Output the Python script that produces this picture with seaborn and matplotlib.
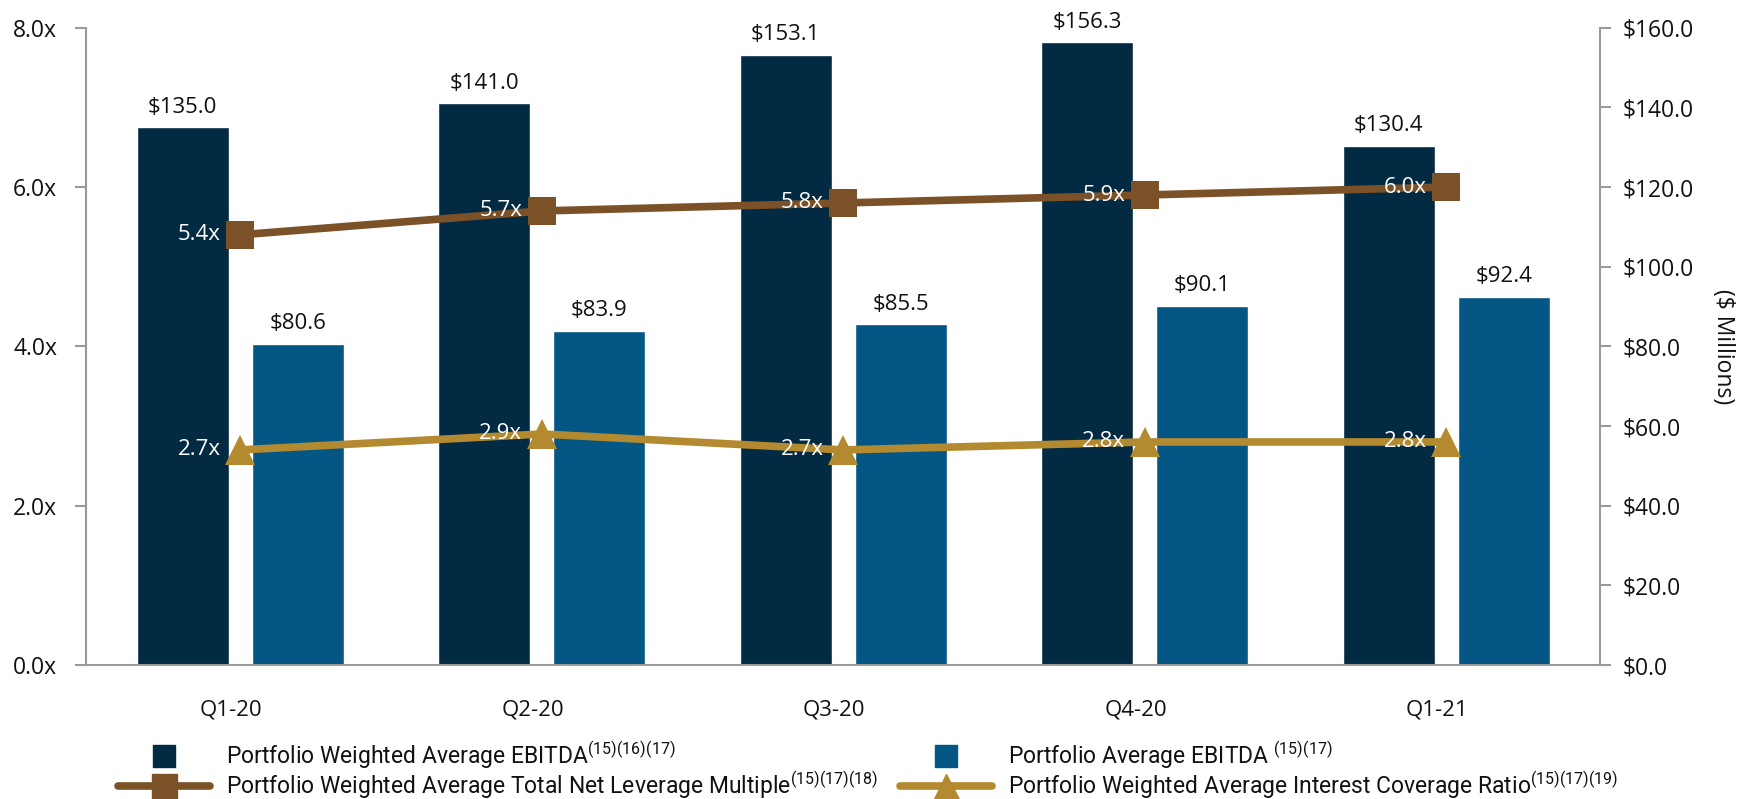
import numpy as np
import pandas as pd
import seaborn as sns
import matplotlib.pyplot as plt
import matplotlib.transforms as mtransforms
from matplotlib.lines import Line2D

quarters = ['Q1-20', 'Q2-20', 'Q3-20', 'Q4-20', 'Q1-21']
weighted_ebitda = [135.0, 141.0, 153.1, 156.3, 130.4]
average_ebitda = [80.6, 83.9, 85.5, 90.1, 92.4]
leverage = [5.4, 5.7, 5.8, 5.9, 6.0]
coverage = [2.7, 2.9, 2.7, 2.8, 2.8]

dark_navy = '#022a42'
mid_blue = '#045785'
brown = '#7b5128'
gold = '#b38a2f'
grey = '#9a9a9a'

sns.set_theme(style='white')
plt.rcParams['font.family'] = ['Open Sans', 'DejaVu Sans']
plt.rcParams['mathtext.fontset'] = 'custom'
plt.rcParams['mathtext.rm'] = 'Roboto'
plt.rcParams['mathtext.default'] = 'regular'

bars = pd.DataFrame({
    'quarter': quarters * 2,
    'series': ['weighted'] * 5 + ['average'] * 5,
    'value': weighted_ebitda + average_ebitda,
})

fig = plt.figure(figsize=(17.4, 7.99), dpi=100)
ax = fig.add_axes([0.0497, 0.1677, 0.8698, 0.7976])

# bars on the $ axis (drawn first, right side)
sns.barplot(data=bars, x='quarter', y='value', hue='series', hue_order=['weighted', 'average'],
            palette=[dark_navy, mid_blue], width=0.764, gap=0.2, saturation=1,
            legend=False, ax=ax)
for cont, vals in zip(ax.containers, [weighted_ebitda, average_ebitda]):
    ax.bar_label(cont, labels=[f'${v:.1f}' for v in vals], padding=7,
                 fontsize=16, color='#111111')

ax2 = ax.twinx()
ax.yaxis.tick_right()
ax.yaxis.set_label_position('right')
ax2.yaxis.tick_left()
ax2.yaxis.set_label_position('left')

pos = np.arange(len(quarters))
sns.lineplot(x=pos, y=leverage, ax=ax2, color=brown, lw=5.5, marker='s',
             markersize=20, markeredgewidth=0)
sns.lineplot(x=pos, y=coverage, ax=ax2, color=gold, lw=5.5, marker='^',
             markersize=21, markeredgewidth=0)
for series in (leverage, coverage):
    for x, v in zip(pos, series):
        ax2.annotate(f'{v:.1f}x', (x, v), xytext=(-14, 0), textcoords='offset points',
                     ha='right', va='center', fontsize=16, color='white')

ax.set_ylim(0, 160)
ax2.set_ylim(0, 8)
ax.set_xlim(-0.51, 4.51)
ax.set_yticks(np.arange(0, 161, 20), labels=[f'${v:.1f}' for v in np.arange(0, 161, 20)])
ax2.set_yticks(np.arange(0, 8.1, 2), labels=[f'{v:.1f}x' for v in np.arange(0, 8.1, 2)])
ax.set_xticks(pos, labels=quarters)
ax.set_xlabel('')
ax2.set_xlabel('')
ax2.set_ylabel('')
ax.set_ylabel('($ Millions)', rotation=270, fontsize=16.5, labelpad=30, color='#111111')

ax.tick_params(axis='y', right=True, left=False, direction='out', length=8, width=1.5,
               color=grey, pad=8, labelsize=16.5, labelcolor='#111111')
ax2.tick_params(axis='y', left=True, right=False, direction='out', length=8, width=1.5,
                color=grey, pad=13, labelsize=16.5, labelcolor='#111111')
ax.tick_params(axis='x', bottom=False, pad=19, labelsize=16, labelcolor='#111111')
shift = mtransforms.ScaledTranslation(-0.09, 0, fig.dpi_scale_trans)
for lbl in ax.get_xticklabels():
    lbl.set_transform(lbl.get_transform() + shift)

for a in (ax, ax2):
    a.spines['top'].set_visible(False)
    for s in ('left', 'right', 'bottom'):
        a.spines[s].set_color(grey)
        a.spines[s].set_linewidth(1.5)
ax.spines['left'].set_visible(False)
ax2.spines['right'].set_visible(False)
ax2.spines['bottom'].set_visible(False)

handles = [
    Line2D([], [], ls='none', marker='s', markersize=16, color=dark_navy),
    Line2D([], [], color=brown, lw=5.5, marker='s', markersize=18),
    Line2D([], [], ls='none', marker='s', markersize=16, color=mid_blue),
    Line2D([], [], color=gold, lw=5.5, marker='^', markersize=18),
]
labels = [
    'Portfolio Weighted Average EBITDA$^{(15)(16)(17)}$',
    'Portfolio Weighted Average Total Net Leverage Multiple$^{(15)(17)(18)}$',
    'Portfolio Average EBITDA $^{(15)(17)}$',
    'Portfolio Weighted Average Interest Coverage Ratio$^{(15)(17)(19)}$',
]
leg = fig.legend(handles, labels, ncol=2, loc='upper left', bbox_to_anchor=(0.068, 0.075),
                 frameon=False, handlelength=4.0, handletextpad=0.7, columnspacing=0.95,
                 labelspacing=-0.1, borderpad=0, borderaxespad=0,
                 prop={'family': 'Roboto', 'size': 16.5})
for t in leg.get_texts():
    t.set_color('#111111')

fig.savefig('out.png', dpi=100, facecolor='white')
